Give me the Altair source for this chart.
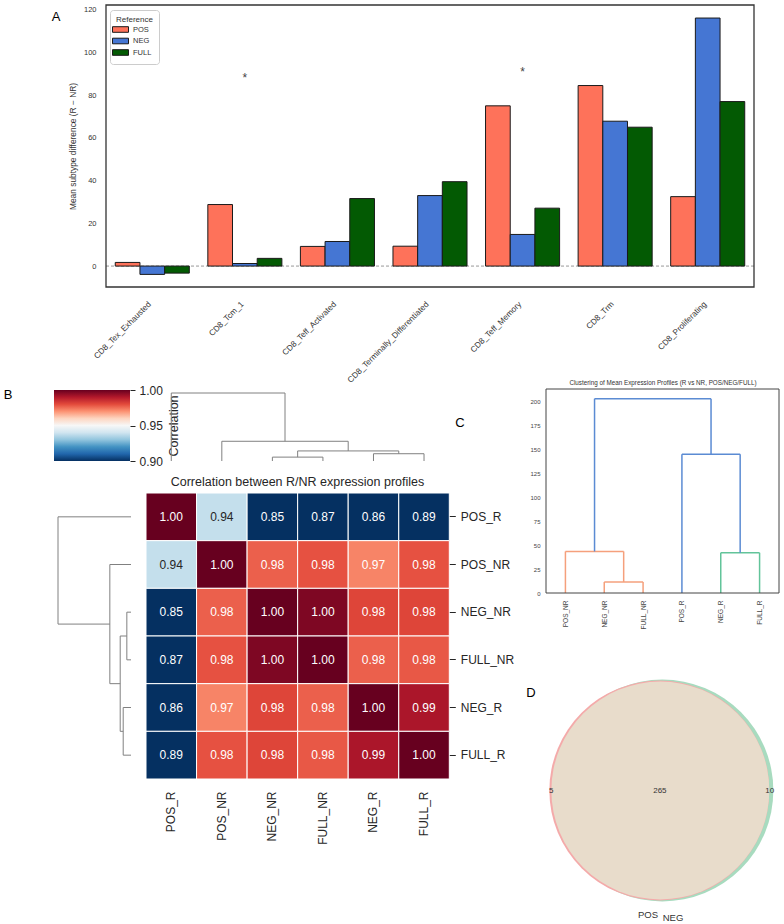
import altair as alt
import pandas as pd

W, H = 784, 924
FONT = "Liberation Sans"

# ---------------- Panel A data ----------------
subtypes = ["CD8_Tex_Exhausted", "CD8_Tcm_1", "CD8_Teff_Activated",
            "CD8_Terminally_Differentiated", "CD8_Teff_Memory", "CD8_Trm",
            "CD8_Proliferating"]
refs = ["POS", "NEG", "FULL"]
ref_colors = ["#fe725a", "#4576d3", "#035a03"]
pos_diff = [1.7, 28.8, 9.2, 9.3, 75.0, 84.5, 32.5]
neg_diff = [-3.9, 1.2, 11.5, 33.0, 14.8, 67.8, 116.1]
full_diff = [-3.3, 3.6, 31.6, 39.5, 27.1, 65.0, 77.0]
sig_subtypes = ["CD8_Tcm_1", "CD8_Teff_Memory"]
sig_y = [89.4, 92.2]

# ---------------- Panel B data ----------------
profiles = ["POS_R", "POS_NR", "NEG_NR", "FULL_NR", "NEG_R", "FULL_R"]
corr_pos_r = [1.000, 0.938, 0.852, 0.871, 0.862, 0.888]
corr_pos_nr = [0.938, 1.000, 0.977, 0.979, 0.972, 0.979]
corr_neg_nr = [0.852, 0.977, 1.000, 0.997, 0.981, 0.981]
corr_full_nr = [0.871, 0.979, 0.997, 1.000, 0.977, 0.978]
corr_neg_r = [0.862, 0.972, 0.981, 0.977, 1.000, 0.991]
corr_full_r = [0.888, 0.979, 0.981, 0.978, 0.991, 1.000]
corr_rows = [corr_pos_r, corr_pos_nr, corr_neg_nr, corr_full_nr, corr_neg_r, corr_full_r]

# clustermap dendrogram (leaf units: leaf i centred at i + 0.5)
b_link_left = [2.5, 4.5, 3.0, 1.5, 0.5]
b_link_right = [3.5, 5.5, 5.0, 4.0, 2.75]
b_link_height = [0.057, 0.107, 0.148, 0.29, 1.0]
b_link_left_h = [0.0, 0.0, 0.057, 0.0, 0.0]
b_link_right_h = [0.0, 0.0, 0.107, 0.148, 0.29]

# colour map (RdBu_r look) between 0.90 and 1.00
cmap_stops = [0.90, 0.91, 0.92, 0.93, 0.94, 0.95, 0.96, 0.97, 0.98, 0.99, 1.00]
cmap_colors = ["#053061", "#2166ac", "#4393c3", "#92c5de", "#d1e5f0", "#f7f7f7",
               "#fdd5c0", "#fc9272", "#e34a3b", "#b2182b", "#67001f"]

# ---------------- Panel C data ----------------
c_leaves = ["POS_NR", "NEG_NR", "FULL_NR", "POS_R", "NEG_R", "FULL_R"]
c_link_left = [15, 5, 45, 35, 12.5]
c_link_right = [25, 20, 55, 50, 42.5]
c_link_height = [11.5, 43.3, 41.9, 144.5, 202.5]
c_link_left_h = [0, 0, 0, 0, 43.3]
c_link_right_h = [0, 11.5, 0, 41.9, 144.5]
c_link_group = ["cluster1", "cluster1", "cluster2", "above", "above"]

# ---------------- Panel D data ----------------
venn_region_labels = ["5", "265", "10"]
venn_region_x = [-0.99, -0.01, 0.98]
only_pos, both, only_neg = 5, 265, 10
circle_names = ["NEG", "POS", "POS&NEG"]
circle_counts = [both + only_neg, both + only_pos, both]
circle_cx = [0.012, -0.015, -0.006]
set_names = ["POS", "NEG"]
set_label_x = [-0.117, 0.108]
set_label_y = [-1.12, -1.145]

one = pd.DataFrame({"k": [0]})


def note(text, x, y, size, color="#000000", **kw):
    return alt.Chart(one).mark_text(text=text, fontSize=size, font=FONT, color=color,
                                    align="center", baseline="middle", **kw).encode(
        x=alt.value(x), y=alt.value(y))


def frame(x0, x1, y0, y1, color, width):
    return alt.Chart(one).mark_rect(fillOpacity=0, stroke=color, strokeWidth=width).encode(
        x=alt.XDatum(0, scale=alt.Scale(domain=[0, 1], range=[x0, x1]), axis=None),
        x2=alt.X2Datum(1),
        y=alt.YDatum(0, scale=alt.Scale(domain=[0, 1], range=[y1, y0]), axis=None),
        y2=alt.Y2Datum(1))


def segments(left, right, h, hl, hr, group=None):
    rows = []
    for i in range(len(left)):
        g = group[i] if group else "g"
        rows.append(dict(p=left[i], p2=left[i], h=hl[i], h2=h[i], g=g))
        rows.append(dict(p=left[i], p2=right[i], h=h[i], h2=h[i], g=g))
        rows.append(dict(p=right[i], p2=right[i], h=hr[i], h2=h[i], g=g))
    return pd.DataFrame(rows)


layers = []

# ================= Panel A =================
A_X0, A_X1, A_Y0, A_Y1 = 106, 754, 5, 287
dfA = pd.DataFrame({
    "subtype": subtypes * 3,
    "ref": [r for r in refs for _ in subtypes],
    "diff": pos_diff + neg_diff + full_diff,
})
a_xscale = alt.Scale(domain=subtypes, range=[A_X0, A_X1], paddingInner=0.2, paddingOuter=0.1)
a_yscale = alt.Scale(domain=[-9.8, 122.2], range=[A_Y1, A_Y0], nice=False, zero=False)

bars = alt.Chart(dfA).mark_bar(stroke="#1a1a1a", strokeWidth=1).encode(
    x=alt.X("subtype:N", sort=subtypes, scale=a_xscale,
            axis=alt.Axis(orient="bottom", offset=A_Y1 - H, title=None, labelAngle=315,
                          ticks=False, domain=False, labelPadding=13, labelOffset=-5,
                          labelFontSize=8.2, labelColor="#333333", labelFont=FONT)),
    xOffset=alt.XOffset("ref:N", sort=refs, scale=alt.Scale(domain=refs, paddingInner=0, paddingOuter=0)),
    y=alt.Y("diff:Q", scale=a_yscale,
            axis=alt.Axis(orient="left", offset=-A_X0, values=[0, 20, 40, 60, 80, 100, 120],
                          title="Mean subtype difference (R − NR)", titleFontSize=8.4,
                          titleFontWeight="normal", titleColor="#333333", titlePadding=6,
                          ticks=False, domain=False, labelPadding=10, labelFontSize=7.5,
                          labelColor="#333333", labelFlush=False, labelOverlap=False)),
    color=alt.Color("ref:N", sort=refs, scale=alt.Scale(domain=refs, range=ref_colors),
                    legend=alt.Legend(title="Reference", orient="none", legendX=110, legendY=10,
                                      fillColor="white", strokeColor="#cccccc", cornerRadius=3,
                                      padding=6, titleFontSize=8, titleFontWeight="normal",
                                      titleColor="#333333", labelFontSize=7.5, labelColor="#333333",
                                      symbolType="M-2,-0.7H2V0.7H-2Z", symbolSize=64,
                                      symbolStrokeColor="#1a1a1a", symbolStrokeWidth=1,
                                      rowPadding=0.5, titlePadding=1, labelOffset=8)),
)
zero_rule = alt.Chart(one).mark_rule(color="#999999", strokeDash=[3, 2], strokeWidth=1).encode(
    x=alt.XDatum(0, scale=alt.Scale(domain=[0, 1], range=[A_X0, A_X1]), axis=None),
    x2=alt.X2Datum(1),
    y=alt.YDatum(0, scale=a_yscale, axis=None),
)
stars = alt.Chart(pd.DataFrame({"subtype": sig_subtypes, "y": sig_y})).mark_text(
    text="*", fontSize=12, color="#444444", font=FONT, baseline="middle", dy=3).encode(
    x=alt.X("subtype:N", scale=a_xscale, axis=None),
    y=alt.Y("y:Q", scale=a_yscale, axis=None),
)
layers += [zero_rule, bars, stars, frame(A_X0, A_X1, A_Y0, A_Y1, "#333333", 1.3)]

# ================= Panel B =================
HX0, HX1, HY0, HY1 = 146, 449.3, 493, 779
dfB = pd.DataFrame([
    {"row": profiles[i], "col": profiles[j], "value": corr_rows[i][j]}
    for i in range(6) for j in range(6)
])
hx = alt.Scale(domain=profiles, range=[HX0, HX1], paddingInner=0, paddingOuter=0)
hy = alt.Scale(domain=profiles, range=[HY0, HY1], paddingInner=0, paddingOuter=0)
heat = alt.Chart(dfB).mark_rect(stroke="white", strokeWidth=1).encode(
    x=alt.X("col:N", sort=profiles, scale=hx,
            axis=alt.Axis(orient="bottom", offset=HY1 - H, title=None, labelAngle=270,
                          ticks=False, domain=False, labelPadding=12, labelFontSize=12,
                          labelColor="#262626")),
    y=alt.Y("row:N", sort=profiles, scale=hy,
            axis=alt.Axis(orient="right", offset=HX1 - W, title=None, ticks=True, tickSize=6,
                          tickColor="#262626", domain=False, labelPadding=5, labelFontSize=12,
                          labelColor="#262626")),
    color=alt.Color("value:Q", scale=alt.Scale(domain=cmap_stops, range=cmap_colors,
                                               clamp=True, interpolate="rgb"), legend=None),
)
heat_text = alt.Chart(dfB).mark_text(fontSize=12, font=FONT).encode(
    x=alt.X("col:N", sort=profiles, scale=hx, axis=None),
    y=alt.Y("row:N", sort=profiles, scale=hy, axis=None),
    text=alt.Text("value:Q", format=".2f"),
    color=alt.condition("datum.value > 0.925 && datum.value < 0.965",
                        alt.value("#262626"), alt.value("white")),
)
bseg = segments(b_link_left, b_link_right, b_link_height, b_link_left_h, b_link_right_h)
col_dendro = alt.Chart(bseg).mark_rule(color="#808080", strokeWidth=1).encode(
    x=alt.X("p:Q", scale=alt.Scale(domain=[0, 6], range=[HX0, HX1], nice=False, zero=False), axis=None),
    x2="p2:Q",
    y=alt.Y("h:Q", scale=alt.Scale(domain=[0, 1], range=[461, 393], nice=False, zero=False), axis=None),
    y2="h2:Q",
)
row_dendro = alt.Chart(bseg).mark_rule(color="#808080", strokeWidth=1).encode(
    y=alt.Y("p:Q", scale=alt.Scale(domain=[0, 6], range=[HY0, HY1], nice=False, zero=False), axis=None),
    y2="p2:Q",
    x=alt.X("h:Q", scale=alt.Scale(domain=[0, 1], range=[131, 58], nice=False, zero=False), axis=None),
    x2="h2:Q",
)
cbar = alt.Chart(one).mark_rect(
    fill=alt.Gradient(gradient="linear",
                      stops=[alt.GradientStop(color=c, offset=i / 10) for i, c in enumerate(cmap_colors)],
                      x1=0, x2=0, y1=1, y2=0)).encode(
    x=alt.XDatum(0, scale=alt.Scale(domain=[0, 1], range=[54, 130]), axis=None),
    x2=alt.X2Datum(1),
    y=alt.YDatum(0.90, scale=alt.Scale(domain=[0.90, 1.00], range=[461, 390], nice=False, zero=False),
                 axis=alt.Axis(orient="right", offset=130 - W, values=[0.90, 0.95, 1.00], format=".2f",
                               title="Correlation", titleAngle=270, titleFontSize=12.5,
                               titleFontWeight="normal", titleColor="#262626", titlePadding=5,
                               titleBaseline="top",
                               ticks=True, tickSize=5, tickColor="#262626", domain=False,
                               labelPadding=4, labelFontSize=12, labelColor="#262626",
                               labelFlush=False, labelOverlap=False)),
    y2=alt.Y2Datum(1.00),
)
layers += [heat, heat_text, col_dendro, row_dendro, cbar,
           note("Correlation between R/NR expression profiles", 297.5, 482, 12.5, "#262626")]

# ================= Panel C =================
CX0, CX1, CY0, CY1 = 546, 779, 389, 593
cseg = segments(c_link_left, c_link_right, c_link_height, c_link_left_h, c_link_right_h, c_link_group)
c_dendro = alt.Chart(cseg).mark_rule(strokeWidth=1.5).encode(
    x=alt.X("p:Q", scale=alt.Scale(domain=[0, 60], range=[CX0, CX1], nice=False, zero=False), axis=None),
    x2="p2:Q",
    y=alt.Y("h:Q", scale=alt.Scale(domain=[0, 212.6], range=[CY1, CY0], nice=False, zero=False),
            axis=alt.Axis(orient="left", offset=-CX0, values=[0, 25, 50, 75, 100, 125, 150, 175, 200],
                          title=None, ticks=False, domain=False, labelPadding=6, labelFontSize=6,
                          labelColor="#444444", labelFlush=False, labelOverlap=False)),
    y2="h2:Q",
    color=alt.Color("g:N", scale=alt.Scale(domain=["above", "cluster1", "cluster2"],
                                           range=["#5b8bd3", "#f5a07c", "#62c49a"]), legend=None),
)
c_axis = alt.Chart(pd.DataFrame({"leaf": c_leaves})).mark_point(opacity=0).encode(
    x=alt.X("leaf:N", sort=c_leaves,
            scale=alt.Scale(domain=c_leaves, range=[CX0, CX1], paddingInner=0, paddingOuter=0),
            axis=alt.Axis(orient="bottom", offset=CY1 - H, title=None, labelAngle=270, ticks=False,
                          domain=False, labelPadding=7, labelFontSize=6.5, labelColor="#444444")),
)
layers += [c_dendro, c_axis, frame(CX0, CX1, CY0, CY1, "#444444", 1),
           note("Clustering of Mean Expression Profiles (R vs NR, POS/NEG/FULL)", 663, 383, 6.3, "#333333")]

# ================= Panel D =================
vx = alt.Scale(domain=[-1, 1], range=[550, 772], nice=False, zero=False)
vy = alt.Scale(domain=[-1, 1], range=[901.5, 679.5], nice=False, zero=False)
venn_df = pd.DataFrame({"circle": circle_names, "n": circle_counts, "cx": circle_cx,
                        "cy": [0.0] * 3, "o": [0, 1, 2]})
circles = alt.Chart(venn_df).mark_circle(opacity=1).encode(
    x=alt.X("cx:Q", scale=vx, axis=None),
    y=alt.Y("cy:Q", scale=vy, axis=None),
    size=alt.Size("n:Q", scale=alt.Scale(domain=[0, 275], range=[0, 222 ** 2], zero=True), legend=None),
    color=alt.Color("circle:N", scale=alt.Scale(domain=circle_names,
                                                range=["#a8dbbf", "#f4aaaa", "#e8dccb"]), legend=None),
    order=alt.Order("o:Q"),
)
region_text = alt.Chart(pd.DataFrame({"t": venn_region_labels, "x": venn_region_x, "y": [0.0] * 3})).mark_text(
    fontSize=8, color="#333333", font=FONT).encode(
    x=alt.X("x:Q", scale=vx, axis=None), y=alt.Y("y:Q", scale=vy, axis=None), text="t:N")
set_text = alt.Chart(pd.DataFrame({"t": set_names, "x": set_label_x, "y": set_label_y})).mark_text(
    fontSize=9.5, color="#333333", font=FONT).encode(
    x=alt.X("x:Q", scale=vx, axis=None), y=alt.Y("y:Q", scale=vy, axis=None), text="t:N")
layers += [circles, region_text, set_text]

# ================= panel letters =================
layers += [note("A", 56, 17, 13), note("B", 8, 395, 13), note("C", 460, 423, 13), note("D", 531, 693, 13)]

chart = alt.layer(*layers).properties(
    width=W, height=H, padding=0, autosize=alt.AutoSizeParams(type="none")
).resolve_scale(
    x="independent", y="independent", color="independent", size="independent"
).configure_view(stroke=None).configure_axis(
    grid=False, labelFont=FONT, titleFont=FONT
).configure_legend(labelFont=FONT, titleFont=FONT).configure_text(font=FONT)

chart.save("out.html", embed_options={"renderer": "svg", "actions": False})
